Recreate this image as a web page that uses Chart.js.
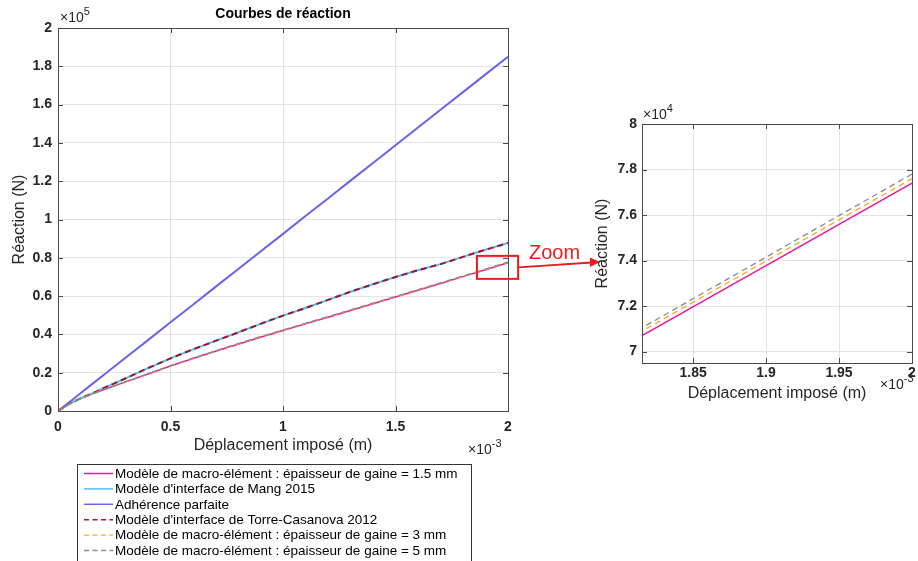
<!DOCTYPE html>
<html><head><meta charset="utf-8">
<script src="https://cdn.jsdelivr.net/npm/chart.js@4"></script>
<style>
html,body{margin:0;padding:0;background:#fff;width:918px;height:561px;overflow:hidden}
#main{position:absolute;left:0;top:0}
#zoom{position:absolute;left:590px;top:100px}
</style></head><body>
<canvas id="main" width="918" height="561"></canvas>
<canvas id="zoom" width="328" height="320"></canvas>
<script>
// Displacement (×1e-3 m)
const displacement = [0, 0.05, 0.1, 0.15, 0.2, 0.3, 0.4, 0.5, 0.6, 0.7, 0.8, 0.9, 1.0, 1.1, 1.2, 1.3, 1.4, 1.5, 1.6, 1.7, 1.8, 1.9, 2.0];
// Reactions (×1e5 N)
const macro15 = [0, 0.037, 0.065, 0.088, 0.11, 0.152, 0.193, 0.235, 0.274, 0.312, 0.349, 0.385, 0.42, 0.455, 0.49, 0.525, 0.56, 0.595, 0.631, 0.666, 0.7016, 0.7378, 0.774];
const mang2015 = [0, 0.037, 0.066, 0.09, 0.118, 0.17, 0.224, 0.275, 0.322, 0.366, 0.41, 0.455, 0.498, 0.538, 0.58, 0.623, 0.662, 0.70, 0.735, 0.767, 0.805, 0.842, 0.877];
const adherence = [0, 0.046, 0.093, 0.139, 0.185, 0.278, 0.37, 0.463, 0.555, 0.648, 0.74, 0.833, 0.925, 1.018, 1.11, 1.203, 1.295, 1.388, 1.48, 1.573, 1.665, 1.758, 1.85];
const torre2012 = [0, 0.037, 0.066, 0.09, 0.118, 0.17, 0.224, 0.275, 0.322, 0.366, 0.41, 0.455, 0.498, 0.538, 0.58, 0.623, 0.662, 0.70, 0.735, 0.767, 0.805, 0.842, 0.877];
const macro3 = [0, 0.037, 0.065, 0.088, 0.11, 0.152, 0.193, 0.236, 0.275, 0.313, 0.351, 0.387, 0.422, 0.457, 0.492, 0.527, 0.562, 0.597, 0.633, 0.668, 0.7036, 0.7398, 0.776];
const macro5 = [0, 0.037, 0.065, 0.088, 0.11, 0.152, 0.194, 0.237, 0.276, 0.314, 0.352, 0.388, 0.423, 0.458, 0.493, 0.528, 0.563, 0.598, 0.634, 0.669, 0.7050, 0.7415, 0.778];

const seriesLabels = [
  "Modèle de macro-élément : épaisseur de gaine = 1.5 mm",
  "Modèle d'interface de Mang 2015",
  "Adhérence parfaite",
  "Modèle d'interface de Torre-Casanova 2012",
  "Modèle de macro-élément : épaisseur de gaine = 3 mm",
  "Modèle de macro-élément : épaisseur de gaine = 5 mm"
];
const mainXTicks = [0, 0.5, 1, 1.5, 2];
const mainYTicks = [0, 0.2, 0.4, 0.6, 0.8, 1, 1.2, 1.4, 1.6, 1.8, 2];
const zoomXTicks = [1.85, 1.9, 1.95, 2];
const zoomYTicks = [7, 7.2, 7.4, 7.6, 7.8, 8];

const seriesValues = [macro15, mang2015, adherence, torre2012, macro3, macro5];
const styles = [
  {c:'#f0189e', w:1.5, d:[]},
  {c:'#4dbeee', w:2, d:[]},
  {c:'#6a62ef', w:2, d:[]},
  {c:'#a2142f', w:2, d:[6,4]},
  {c:'#edb120', w:1.3, d:[6,4]},
  {c:'#8a8a8a', w:1.3, d:[6,4]}
];

function buildDatasets(scaleY){
  return seriesValues.map((vals,i)=>({
    label: seriesLabels[i],
    data: displacement.map((x,k)=>({x:x, y:vals[k]*scaleY})),
    borderColor: styles[i].c,
    borderWidth: styles[i].w,
    borderDash: styles[i].d,
    pointRadius: 0,
    fill: false,
    tension: 0,
    order: seriesValues.length - i
  }));
}

const FONT = 'Arial, "Liberation Sans", Helvetica, sans-serif';
const TXT = '#262626';

function sci(ctx, x, y, exp, size){
  ctx.save();
  ctx.fillStyle = TXT;
  ctx.textBaseline = 'middle';
  ctx.textAlign = 'left';
  ctx.font = size + 'px ' + FONT;
  ctx.fillText('×10', x, y);
  const w = ctx.measureText('×10').width;
  ctx.font = Math.round(size*0.8) + 'px ' + FONT;
  ctx.fillText(exp, x + w, y - size*0.45);
  ctx.restore();
}

const framePlugin = {
  id: 'frame',
  afterDatasetsDraw(chart, args, opts){
    const {ctx, chartArea:a, scales} = chart;
    ctx.save();
    ctx.strokeStyle = '#4a4a4a';
    ctx.lineWidth = 1;
    ctx.strokeRect(Math.round(a.left)+0.5, Math.round(a.top)+0.5, Math.round(a.right-a.left), Math.round(a.bottom-a.top));
    const tl = 5;
    ctx.beginPath();
    opts.yt.forEach(v=>{
      const y = Math.round(scales.y.getPixelForValue(v))+0.5;
      ctx.moveTo(a.left, y); ctx.lineTo(a.left+tl, y);
      ctx.moveTo(a.right, y); ctx.lineTo(a.right-tl, y);
    });
    opts.xt.forEach(v=>{
      const x = Math.round(scales.x.getPixelForValue(v))+0.5;
      ctx.moveTo(x, a.bottom); ctx.lineTo(x, a.bottom-tl);
      ctx.moveTo(x, a.top); ctx.lineTo(x, a.top+tl);
    });
    ctx.stroke();
    ctx.restore();
  }
};

const mainExtras = {
  id: 'mainExtras',
  afterDraw(chart){
    const {ctx, chartArea:a, scales} = chart;
    ctx.save();
    ctx.fillStyle = '#000';
    ctx.font = 'bold 14px ' + FONT;
    ctx.textAlign = 'center';
    ctx.textBaseline = 'middle';
    ctx.fillText('Courbes de réaction', (a.left+a.right)/2, 14);
    ctx.restore();
    sci(ctx, 60, 18, '5', 14);
    sci(ctx, 468, 450, '-3', 14);
    // zoom box
    const x0 = scales.x.getPixelForValue(1.862), x1 = scales.x.getPixelForValue(2.045);
    const y0 = scales.y.getPixelForValue(0.81), y1 = scales.y.getPixelForValue(0.69);
    ctx.save();
    ctx.strokeStyle = '#ee1c1c';
    ctx.fillStyle = '#ee1c1c';
    ctx.lineWidth = 2;
    ctx.strokeRect(x0, y0, x1-x0, y1-y0);
    const ym = (y0+y1)/2;
    ctx.beginPath();
    ctx.moveTo(x1, ym); ctx.lineTo(592, 262.5);
    ctx.stroke();
    ctx.beginPath();
    ctx.moveTo(600, 262); ctx.lineTo(590, 257.5); ctx.lineTo(590, 267); ctx.closePath();
    ctx.fill();
    ctx.font = '20px ' + FONT;
    ctx.textAlign = 'left';
    ctx.textBaseline = 'middle';
    ctx.fillText('Zoom', 529, 253);
    ctx.restore();
    // legend
    ctx.save();
    ctx.strokeStyle = '#333';
    ctx.lineWidth = 1;
    ctx.fillStyle = '#fff';
    ctx.fillRect(77.5, 464.5, 394, 110);
    ctx.strokeRect(77.5, 464.5, 394, 110);
    ctx.font = '13.5px ' + FONT;
    ctx.textBaseline = 'middle';
    ctx.textAlign = 'left';
    chart.data.datasets.forEach((ds,i)=>{
      const y = 473.5 + i*15.4;
      ctx.strokeStyle = ds.borderColor;
      ctx.lineWidth = Math.min(ds.borderWidth, 1.5);
      ctx.setLineDash(ds.borderDash.length ? [5,3.5] : []);
      ctx.beginPath(); ctx.moveTo(84, y); ctx.lineTo(113, y); ctx.stroke();
      ctx.setLineDash([]);
      ctx.fillStyle = '#000';
      ctx.fillText(ds.label, 115, y+0.5);
    });
    ctx.restore();
  }
};

const zoomExtras = {
  id: 'zoomExtras',
  afterDraw(chart){
    const ctx = chart.ctx;
    sci(ctx, 53, 15, '4', 14);
    sci(ctx, 290, 285, '-3', 14);
  }
};

function tickFmt(v){ return String(Number(v.toFixed(3))); }

function axisOpts(min, max, ticksArr, titleText, isX, o){
  return {
    type: 'linear',
    min: min, max: max,
    border: {display: false},
    grid: {color: '#e4e4e4', drawTicks: false, lineWidth: 1},
    afterBuildTicks: (s)=>{ s.ticks = ticksArr.map(v=>({value:v})); },
    afterFit: (s)=>{ if (isX) s.height = o.size; else s.width = o.size; },
    ticks: {
      callback: (v)=>tickFmt(v),
      color: TXT,
      font: {family: FONT, size: 14, weight: 'bold'},
      padding: o.tickPad,
      maxRotation: 0,
      autoSkip: false
    },
    title: {
      display: true,
      text: titleText,
      color: TXT,
      font: {family: FONT, size: 16},
      padding: o.titlePad
    }
  };
}

new Chart(document.getElementById('main'), {
  type: 'line',
  data: {datasets: buildDatasets(1)},
  options: {
    responsive: false,
    animation: false,
    layout: {padding: {left: 0, top: 28, right: 410, bottom: 106}},
    plugins: {legend: {display: false}, tooltip: {enabled: false}, frame: {xt: mainXTicks, yt: mainYTicks}},
    scales: {
      x: axisOpts(0, 2, mainXTicks, 'Déplacement imposé (m)', true, {size: 44, tickPad: 8, titlePad: {top:0, bottom:0}}),
      y: axisOpts(0, 2, mainYTicks, 'Réaction (N)', false, {size: 58, tickPad: 6, titlePad: {top: 10, bottom: 0}})
    }
  },
  plugins: [framePlugin, mainExtras]
});

new Chart(document.getElementById('zoom'), {
  type: 'line',
  data: {datasets: buildDatasets(10)},
  options: {
    responsive: false,
    animation: false,
    layout: {padding: {left: 0, top: 24, right: 6, bottom: 17}},
    plugins: {legend: {display: false}, tooltip: {enabled: false}, frame: {xt: zoomXTicks, yt: zoomYTicks}},
    scales: {
      x: axisOpts(1.815, 2, zoomXTicks, 'Déplacement imposé (m)', true, {size: 40, tickPad: 2, titlePad: {top:0, bottom:0}}),
      y: axisOpts(6.95, 8, zoomYTicks, 'Réaction (N)', false, {size: 52, tickPad: 5, titlePad: {top: 3, bottom: 0}})
    }
  },
  plugins: [framePlugin, zoomExtras]
});
</script>
</body></html>
